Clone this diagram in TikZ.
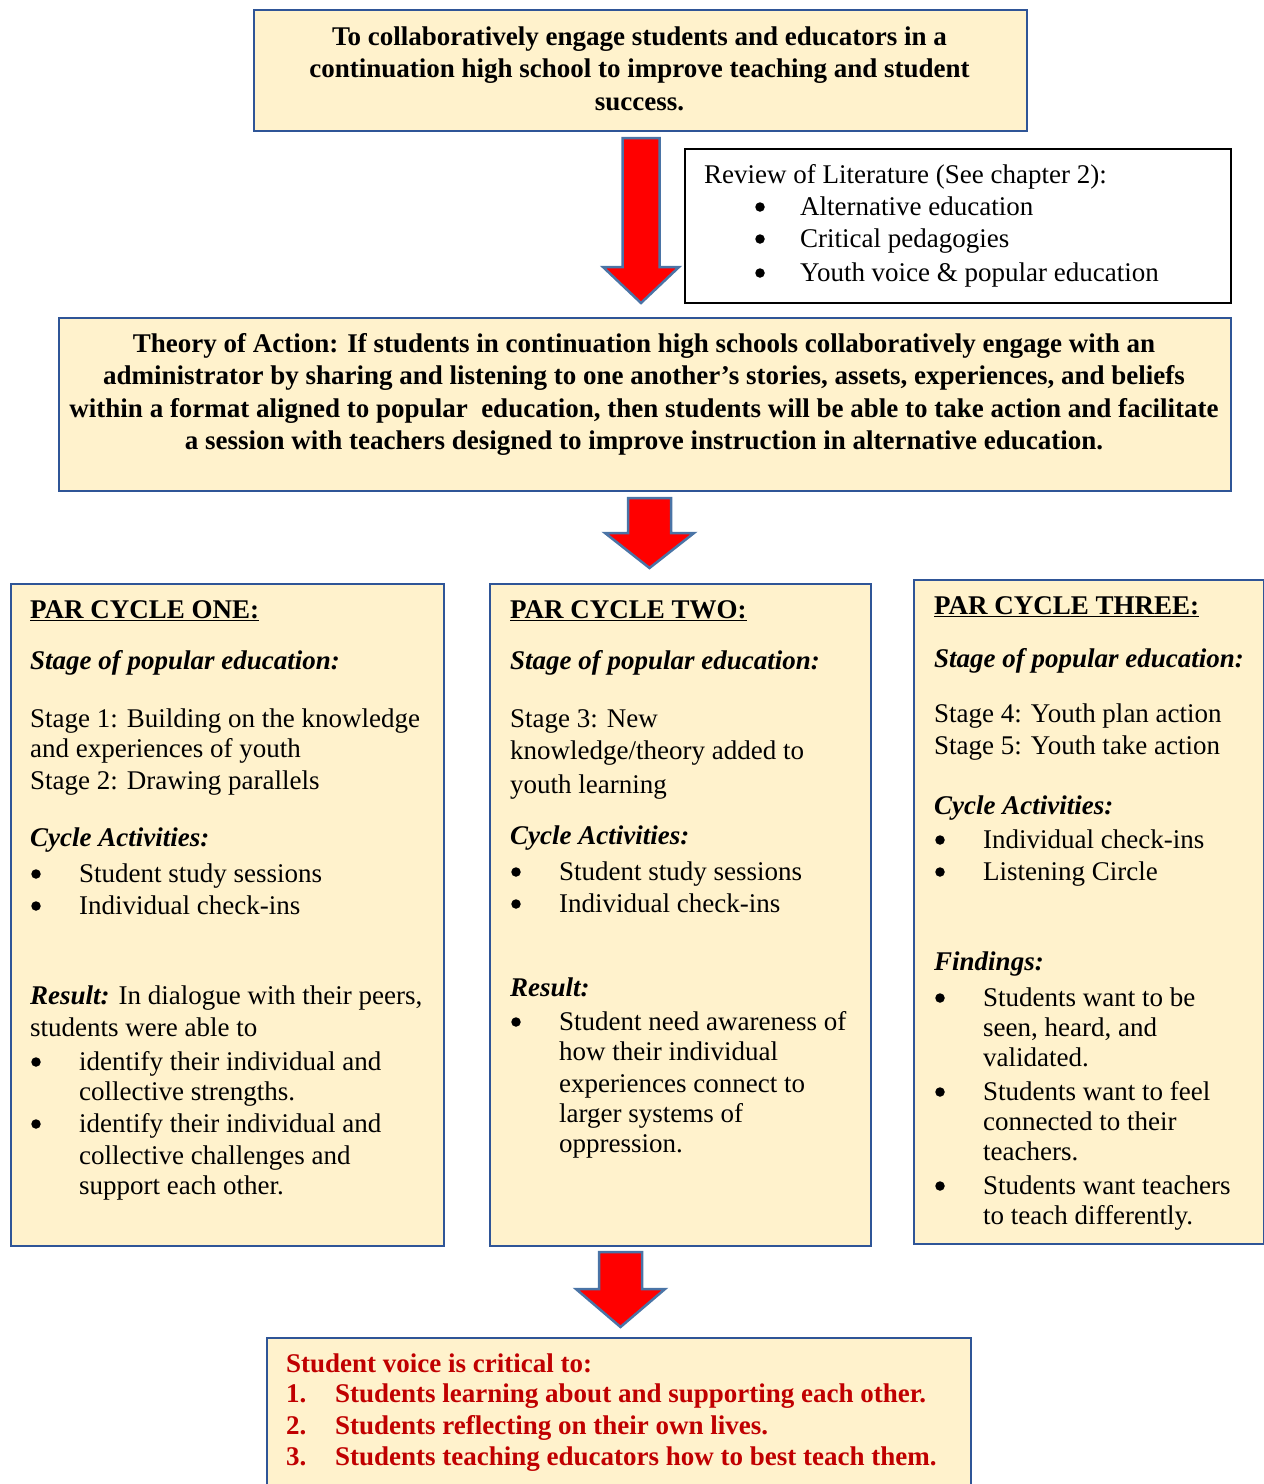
\documentclass[tikz,border=0pt]{standalone}
\usepackage{fontspec}
\setmainfont{Liberation Serif}

\definecolor{boxfill}{HTML}{FFF2CC}
\definecolor{boxline}{HTML}{2F5597}
\definecolor{arrowline}{HTML}{4A74A6}
\definecolor{voicered}{HTML}{C00000}

\tikzset{
  panel/.style={draw=boxline, line width=2.2pt, fill=boxfill, inner sep=0pt, anchor=north west},
  litbox/.style={draw=black, line width=1.8pt, fill=white, inner sep=0pt, anchor=north west},
  blockarrow/.style={draw=arrowline, line width=2.5pt, fill=red, line join=miter},
  ln/.style={anchor=base west, inner sep=0pt, font=\fontsize{27}{31}\selectfont},
  lnc/.style={ln, anchor=base},
  dot/.style={circle, fill=black, inner sep=0pt, minimum size=9.5pt},
}

% one line of text: name, x, baseline y, text
\newcommand\Ln[4]{\node[ln] (#1) at (#2,#3) {#4};}
% centred line: name, centre x, baseline y, text
\newcommand\Lc[4]{\node[lnc] (#1) at (#2,#3) {#4};}
% bulleted line: name, bullet x, text x, baseline y, text
\newcommand\Bul[5]{\node[dot] (#1b) at (#2,#4-8) {}; \node[ln] (#1) at (#3,#4) {#5};}
% block arrow: centre x, top y, head y, tip y, half shaft, half head
\newcommand\BlockArrow[6]{%
  \draw[blockarrow] (#1-#5,#2) -- (#1+#5,#2) -- (#1+#5,#3) -- (#1+#6,#3)
    -- (#1,#4) -- (#1-#6,#3) -- (#1-#5,#3) -- cycle;}
\newcommand\bi[1]{\textbf{\textit{#1}}}

\begin{document}
\begin{tikzpicture}[x=1pt, y=-1pt]
\useasboundingbox (0,0) rectangle (1264,1484);

% ---- boxes ----
\node[panel, minimum width=773pt, minimum height=121pt] (goal) at (253,9) {};
\node[litbox, minimum width=546pt, minimum height=154pt] (lit) at (684,148) {};
\node[panel, minimum width=1172pt, minimum height=173pt] (theory) at (58,317) {};
\node[panel, minimum width=433pt, minimum height=662pt] (cyc1) at (10,583) {};
\node[panel, minimum width=381pt, minimum height=662pt] (cyc2) at (489,583) {};
\node[panel, minimum width=350pt, minimum height=664pt] (cyc3) at (913,579) {};
\node[panel, minimum width=704pt, minimum height=170pt] (voice) at (266,1337) {};

% ---- block arrows ----
\BlockArrow{641}{138}{267}{303}{18.5}{38}
\BlockArrow{649.5}{498}{533}{568}{21.5}{44.5}
\BlockArrow{620.5}{1252}{1289}{1327}{21.5}{44.5}

% ---- goal ----
\begin{scope}[ln/.append style={font=\fontsize{27}{31}\selectfont\bfseries}]
\Lc{g1}{639.5}{45}{To collaboratively engage students and educators in a}
\Lc{g2}{639.5}{77}{continuation high school to improve teaching and student}
\Lc{g3}{639.5}{110}{success.}
\end{scope}

% ---- literature ----
\Ln{l0}{704}{183}{Review of Literature (See chapter 2):}
\Bul{l1}{760}{800}{215}{Alternative education}
\Bul{l2}{760}{800}{247}{Critical pedagogies}
\Bul{l3}{760}{800}{281}{Youth voice \& popular education}

% ---- theory of action ----
\begin{scope}[ln/.append style={font=\fontsize{27}{31}\selectfont\bfseries}]
\Lc{t1}{644}{352}{Theory of Action: If students in continuation high schools collaboratively engage with an}
\Lc{t2}{644}{384}{administrator by sharing and listening to one another’s stories, assets, experiences, and beliefs}
\Lc{t3}{644}{417}{within a format aligned to popular~ education, then students will be able to take action and facilitate}
\Lc{t4}{644}{449}{a session with teachers designed to improve instruction in alternative education.}
\end{scope}

% ---- cycle one ----
\Ln{a1}{30}{618}{\textbf{\underline{PAR CYCLE  ONE:}}}
\Ln{a2}{30}{669}{\bi{Stage of popular education:}}
\Ln{a3}{30}{727}{Stage 1: Building on the knowledge}
\Ln{a4}{30}{757}{and experiences of youth}
\Ln{a5}{30}{789}{Stage 2: Drawing parallels}
\Ln{a6}{30}{846}{\bi{Cycle Activities:}}
\Bul{a7}{36}{79}{882}{Student study sessions}
\Bul{a8}{36}{79}{914}{Individual check-ins}
\Ln{a9}{30}{1004}{\bi{Result:} In dialogue with their peers,}
\Ln{a10}{30}{1036}{students were able to}
\Bul{a11}{36}{79}{1070}{identify their individual and}
\Ln{a12}{79}{1100}{collective strengths.}
\Bul{a13}{36}{79}{1132}{identify their individual and}
\Ln{a14}{79}{1164}{collective challenges and}
\Ln{a15}{79}{1194}{support each other.}

% ---- cycle two ----
\Ln{b1}{510}{618}{\textbf{\underline{PAR CYCLE  TWO:}}}
\Ln{b2}{510}{669}{\bi{Stage of popular education:}}
\Ln{b3}{510}{727}{Stage 3: New}
\Ln{b4}{510}{759}{knowledge/theory added to}
\Ln{b5}{510}{793}{youth learning}
\Ln{b6}{510}{844}{\bi{Cycle Activities:}}
\Bul{b7}{516}{559}{880}{Student study sessions}
\Bul{b8}{516}{559}{912}{Individual check-ins}
\Ln{b9}{510}{996}{\bi{Result:}}
\Bul{b10}{516}{559}{1030}{Student need awareness of}
\Ln{b11}{559}{1060}{how their individual}
\Ln{b12}{559}{1092}{experiences connect to}
\Ln{b13}{559}{1122}{larger systems of}
\Ln{b14}{559}{1152}{oppression.}

% ---- cycle three ----
\Ln{c1}{934}{614}{\textbf{\underline{PAR CYCLE  THREE:}}}
\Ln{c2}{934}{667}{\bi{Stage of popular education:}}
\Ln{c3}{934}{722}{Stage 4: Youth plan action}
\Ln{c4}{934}{754}{Stage 5: Youth take action}
\Ln{c5}{934}{814}{\bi{Cycle Activities:}}
\Bul{c6}{940}{983}{848}{Individual check-ins}
\Bul{c7}{940}{983}{880}{Listening Circle}
\Ln{c8}{934}{970}{\bi{Findings:}}
\Bul{c9}{940}{983}{1006}{Students want to be}
\Ln{c10}{983}{1036}{seen, heard, and}
\Ln{c11}{983}{1066}{validated.}
\Bul{c12}{940}{983}{1100}{Students want to feel}
\Ln{c13}{983}{1130}{connected to their}
\Ln{c14}{983}{1160}{teachers.}
\Bul{c15}{940}{983}{1194}{Students want teachers}
\Ln{c16}{983}{1224}{to teach differently.}

% ---- student voice ----
\begin{scope}[ln/.append style={font=\fontsize{27}{31}\selectfont\bfseries, text=voicered}]
\Ln{v0}{286}{1372}{Student voice is critical to:}
\Ln{v1n}{286}{1402}{1.}
\Ln{v1}{335}{1402}{Students learning about and supporting each other.}
\Ln{v2n}{286}{1434}{2.}
\Ln{v2}{335}{1434}{Students reflecting on their own lives.}
\Ln{v3n}{286}{1465}{3.}
\Ln{v3}{335}{1465}{Students teaching educators how to best teach them.}
\end{scope}
\end{tikzpicture}
\end{document}
